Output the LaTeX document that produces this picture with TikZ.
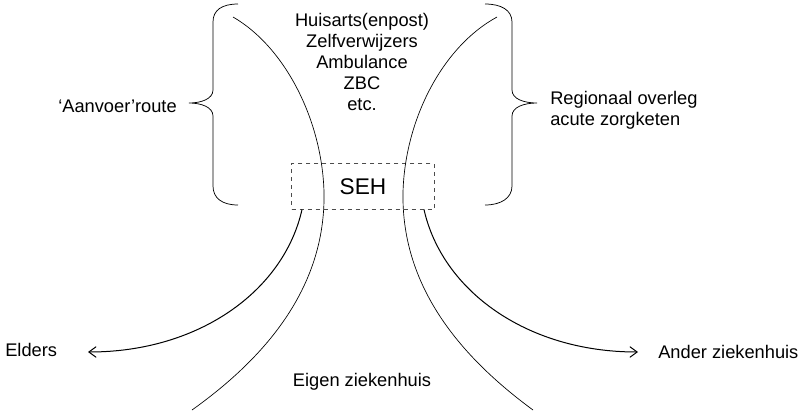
\documentclass[tikz,border=0pt]{standalone}
\usepackage{fontspec}
\setmainfont{Liberation Sans}
\usetikzlibrary{arrows.meta}
\begin{document}
\begin{tikzpicture}[x=0.75pt,y=-0.75pt,
  lbl/.style={inner sep=0pt,font=\fontsize{13.7}{15.75}\selectfont},
  thinline/.style={line width=0.5pt},
  brace/.style={line width=0.55pt},
  flow/.style={line width=0.75pt,-{Straight Barb[length=5.5pt,width=8pt]}},
  sehbox/.style={draw=black!70,dashed,line width=0.6pt,minimum width=107pt,minimum height=34pt,inner sep=0pt,font=\fontsize{17}{20}\selectfont}]
\useasboundingbox (0,0) rectangle (802,415);
% texts
\node[lbl,align=center] (bronnen) at (362,62) {Huisarts(enpost)\\Zelfverwijzers\\Ambulance\\ZBC\\etc.};
\node[lbl,anchor=east] (aanvoer) at (177,106) {‘Aanvoer’route};
\node[lbl,anchor=west,align=left] (regio) at (550,110) {Regionaal overleg\\acute zorgketen};
\node[sehbox] (seh) at (363,186.5) {SEH};
\node[lbl,anchor=west] (elders) at (5,350) {Elders};
\node[lbl,anchor=west] (ander) at (658,352) {Ander ziekenhuis};
\node[lbl] (eigen) at (362,382) {Eigen ziekenhuis};
% coordinates
\coordinate (ltop) at (233,17);
\coordinate (lmid) at (324,192);
\coordinate (lbot) at (192,410);
\coordinate (rtop) at (497,17);
\coordinate (rmid) at (403,192);
\coordinate (rbot) at (533,410);
\coordinate (larrs) at (302,209.5);
\coordinate (larre) at (88,352);
\coordinate (rarrs) at (424,209.5);
\coordinate (rarre) at (638,352);
% big curves
\draw[thinline] (ltop) .. controls (285,47) and (322,120) .. (lmid)
  .. controls (326,290) and (262,360) .. (lbot);
\draw[thinline] (rtop) .. controls (442,47) and (405,120) .. (rmid)
  .. controls (401,290) and (465,360) .. (rbot);
% arrows
\draw[flow] (larrs) .. controls (284,290) and (200,352) .. (larre);
\draw[flow] (rarrs) .. controls (442,290) and (526,352) .. (rarre);
% braces
\draw[brace] (238,4) .. controls (222,4) and (213,10) .. (213,22) -- (213,90)
  .. controls (213,99) and (201,103) .. (189,103)
  .. controls (201,103) and (213,107) .. (213,116) -- (213,186)
  .. controls (213,198) and (222,205) .. (238,205);
\draw[brace] (485,4) .. controls (501,4) and (512,10) .. (512,22) -- (512,90)
  .. controls (512,99) and (524,103) .. (537,103)
  .. controls (524,103) and (512,107) .. (512,116) -- (512,186)
  .. controls (512,198) and (501,205) .. (485,205);
\end{tikzpicture}
\end{document}
